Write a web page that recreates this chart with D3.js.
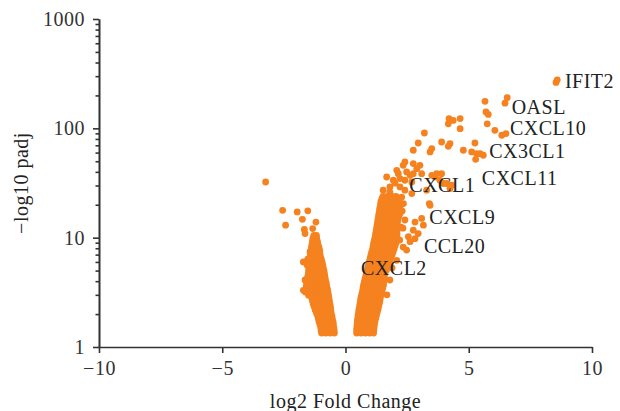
<!DOCTYPE html>
<html lang="en">
<head>
    <meta charset="UTF-8">
    <title>Volcano plot</title>
    <script src="https://d3js.org/d3.v7.min.js"></script>
    <style>
        body { margin: 0; background: #fff; }
        svg { display: block; }
        text { font-family: "Liberation Serif", "Times New Roman", serif; fill: #222; letter-spacing: 0.5px; }
        .axis path, .axis line { stroke: #333; stroke-width: 1.6; }
        .axis text { font-family: "Liberation Serif", "Times New Roman", serif; font-size: 20px; fill: #333; }
    </style>
</head>
<body>
    <svg width="620" height="411"></svg>
    <script>
        // [log2 fold change, -log10 padj]
        const downGenes = [
            [-0.97,1.34],[-0.80,1.34],[-0.62,1.34],[-0.45,1.34],
            [-0.99,1.41],[-0.89,1.41],[-0.72,1.41],[-0.55,1.41],[-0.46,1.41],
            [-1.00,1.49],[-0.83,1.49],[-0.65,1.49],[-0.47,1.49],
            [-1.03,1.59],[-0.86,1.59],[-0.68,1.59],[-0.49,1.59],
            [-1.07,1.69],[-0.89,1.69],[-0.70,1.69],[-0.50,1.69],
            [-1.10,1.80],[-0.92,1.80],[-0.73,1.80],[-0.53,1.80],
            [-1.13,1.92],[-0.95,1.92],[-0.76,1.92],[-0.55,1.92],
            [-1.18,2.05],[-1.00,2.05],[-0.80,2.05],[-0.58,2.05],
            [-1.23,2.18],[-1.04,2.18],[-0.85,2.18],[-0.60,2.18],
            [-1.27,2.33],[-1.08,2.33],[-0.88,2.33],[-0.68,2.33],[-0.61,2.33],
            [-1.31,2.47],[-1.12,2.47],[-0.92,2.47],[-0.72,2.47],[-0.63,2.47],
            [-1.34,2.63],[-1.15,2.63],[-0.95,2.63],[-0.75,2.63],[-0.65,2.63],
            [-1.37,2.80],[-1.18,2.80],[-0.98,2.80],[-0.78,2.80],[-0.67,2.80],
            [-1.50,2.98],[-1.30,2.98],[-1.10,2.98],[-0.90,2.98],[-0.69,2.98],
            [-1.63,3.18],[-1.42,3.18],[-1.22,3.18],[-1.01,3.18],[-0.82,3.18],[-0.71,3.18],
            [-1.71,3.30],[-1.61,3.39],[-1.40,3.39],[-1.19,3.39],[-0.99,3.39],[-0.79,3.39],[-0.73,3.39],
            [-1.59,3.61],[-1.38,3.61],[-1.17,3.61],[-0.96,3.61],[-0.76,3.61],
            [-1.58,3.85],[-1.37,3.85],[-1.17,3.85],[-0.97,3.85],[-0.78,3.85],
            [-1.64,4.10],[-1.57,4.09],[-1.37,4.09],[-1.18,4.09],[-0.99,4.09],[-0.81,4.09],
            [-1.54,4.36],[-1.35,4.36],[-1.16,4.36],[-0.99,4.36],[-0.83,4.36],
            [-1.51,4.64],[-1.33,4.64],[-1.15,4.64],[-0.98,4.64],[-0.85,4.64],
            [-1.50,4.95],[-1.31,4.95],[-1.12,4.95],[-0.94,4.95],[-0.87,4.95],
            [-1.49,5.27],[-1.30,5.27],[-1.10,5.27],[-0.90,5.27],
            [-1.56,5.62],[-1.37,5.62],[-1.18,5.62],[-0.99,5.62],[-0.92,5.62],
            [-1.71,6.00],[-1.64,5.98],[-1.45,5.98],[-1.25,5.98],[-1.08,5.98],[-0.95,5.98],
            [-1.53,6.37],[-1.33,6.37],[-1.14,6.37],[-0.98,6.37],
            [-1.43,6.78],[-1.22,6.78],[-1.02,6.78],
            [-1.41,7.22],[-1.22,7.22],[-1.04,7.22],
            [-1.44,7.40],[-1.40,7.69],[-1.22,7.69],[-1.05,7.69],
            [-1.38,8.19],[-1.22,8.19],[-1.08,8.19],
            [-1.36,8.72],[-1.12,8.72],
            [-1.34,9.29],[-1.14,9.29],
            [-1.32,9.90],[-1.17,9.90],
            [-1.28,10.5],[-1.18,10.5],
            [-1.64,10.9],[-1.67,11.9],[-1.33,12.1],[-1.20,13.9],[-1.75,14.7],
            [-1.96,17.2],[-1.53,17.6],[-2.43,13.0],[-2.55,17.8],[-3.24,32.3]
        ];

        const upGenes = [
            [0.45,1.34],[0.63,1.34],[0.81,1.34],[0.98,1.34],[1.14,1.34],
            [0.45,1.43],[0.54,1.43],[0.72,1.43],[0.90,1.43],[1.07,1.43],[1.15,1.43],
            [0.46,1.52],[0.64,1.52],[0.82,1.52],[1.00,1.52],[1.16,1.52],
            [0.47,1.62],[0.65,1.62],[0.83,1.62],[1.01,1.62],[1.18,1.62],
            [0.48,1.73],[0.66,1.73],[0.85,1.73],[1.03,1.73],[1.20,1.73],
            [0.50,1.84],[0.68,1.84],[0.87,1.84],[1.05,1.84],[1.23,1.84],
            [0.51,1.96],[0.70,1.96],[0.89,1.96],[1.08,1.96],[1.26,1.96],
            [0.53,2.09],[0.72,2.09],[0.91,2.09],[1.10,2.09],[1.29,2.09],
            [0.55,2.22],[0.74,2.22],[0.93,2.22],[1.12,2.22],[1.32,2.22],
            [0.57,2.37],[0.76,2.37],[0.95,2.37],[1.15,2.37],[1.35,2.37],
            [0.59,2.52],[0.78,2.52],[0.98,2.52],[1.18,2.52],[1.38,2.52],
            [0.61,2.69],[0.80,2.69],[1.00,2.69],[1.20,2.69],[1.40,2.69],
            [0.63,2.86],[0.83,2.86],[1.02,2.86],[1.22,2.86],[1.42,2.86],
            [0.66,3.05],[0.85,3.05],[1.05,3.05],[1.25,3.05],[1.45,3.05],
            [0.69,3.25],[0.88,3.25],[1.08,3.25],[1.28,3.25],[1.48,3.25],
            [0.71,3.46],[0.90,3.46],[1.10,3.46],[1.31,3.46],[1.51,3.46],
            [0.73,3.68],[0.93,3.68],[1.13,3.68],[1.34,3.68],[1.54,3.68],
            [0.76,3.92],[0.95,3.92],[1.15,3.92],[1.36,3.92],[1.55,3.92],
            [0.79,4.18],[0.98,4.18],[1.18,4.18],[1.38,4.18],[1.56,4.18],
            [0.82,4.45],[1.01,4.45],[1.20,4.45],[1.40,4.45],[1.58,4.45],
            [0.85,4.74],[1.04,4.74],[1.23,4.74],[1.42,4.74],[1.60,4.74],
            [0.88,5.05],[1.07,5.05],[1.27,5.05],[1.47,5.05],[1.66,5.05],
            [0.91,5.38],[1.11,5.38],[1.31,5.38],[1.52,5.38],[1.72,5.38],
            [0.94,5.73],[1.14,5.73],[1.34,5.73],[1.55,5.73],[1.76,5.73],
            [0.97,6.10],[1.17,6.10],[1.38,6.10],[1.59,6.10],[1.80,6.10],
            [1.00,6.50],[1.20,6.50],[1.41,6.50],[1.63,6.50],[1.84,6.50],
            [1.03,6.93],[1.24,6.93],[1.45,6.93],[1.67,6.93],[1.89,6.93],
            [1.06,7.38],[1.27,7.38],[1.49,7.38],[1.71,7.38],[1.93,7.38],
            [1.10,7.86],[1.31,7.86],[1.53,7.86],[1.75,7.86],[1.97,7.86],
            [1.12,8.37],[1.33,8.37],[1.56,8.37],[1.78,8.37],[2.01,8.37],
            [1.14,8.92],[1.36,8.92],[1.59,8.92],[1.82,8.92],[2.05,8.92],
            [1.17,9.49],[1.39,9.49],[1.61,9.49],[1.84,9.49],[2.07,9.49],
            [1.20,10.1],[1.42,10.1],[1.64,10.1],[1.86,10.1],[2.09,10.1],
            [1.22,10.8],[1.43,10.8],[1.65,10.8],[1.87,10.8],[2.09,10.8],
            [1.24,11.5],[1.45,11.5],[1.66,11.5],[1.88,11.5],[2.09,11.5],
            [1.26,12.2],[1.46,12.2],[1.67,12.2],[1.88,12.2],[2.09,12.2],
            [1.28,13.0],[1.48,13.0],[1.68,13.0],[1.89,13.0],[2.09,13.0],
            [1.30,13.9],[1.50,13.9],[1.70,13.9],[1.91,13.9],[2.11,13.9],
            [1.32,14.8],[1.52,14.8],[1.72,14.8],[1.93,14.8],[2.13,14.8],
            [1.34,15.8],[1.55,15.8],[1.75,15.8],[1.96,15.8],[2.17,15.8],
            [1.36,16.8],[1.57,16.8],[1.78,16.8],[2.00,16.8],[2.21,16.8],
            [1.38,17.9],[1.59,17.9],[1.80,17.9],[2.00,17.9],[2.21,17.9],
            [1.40,19.0],[1.61,19.0],[1.81,19.0],[2.01,19.0],[2.21,19.0],
            [1.42,20.3],[1.61,20.3],[1.80,20.3],[2.00,20.3],[2.19,20.3],
            [1.44,21.6],[1.62,21.6],[1.80,21.6],[1.98,21.6],[2.17,21.6],
            [1.48,22.7],[1.66,22.7],[1.84,22.7],[2.02,22.7],[2.11,22.7],
            [1.52,23.9],[1.70,23.9],[1.88,23.9],[2.05,23.9],
            [1.60,22.0],[1.80,26.1],[2.01,23.0],[1.53,27.2],[1.80,29.1],[1.67,35.9],[2.01,31.5],
            [2.30,17.5],[2.35,20.5],[2.28,23.5],[2.25,12.5],[2.20,9.5],
            [1.89,5.3],[1.80,4.1],[1.68,3.0],[2.08,6.2],[2.34,8.2],[2.48,7.7],[2.62,9.2],
            [2.82,9.8],[2.55,10.2],[2.95,10.9],[2.75,11.7],[2.33,12.2],[3.16,13.0],[2.82,13.9],
            [2.41,14.5],[3.09,15.0],[2.21,16.7],[3.40,20.5],[3.43,19.8],
            [2.69,25.3],[2.41,27.2],[3.29,27.2],[2.21,29.1],[4.24,28.1],[4.31,30.2],[3.97,31.3],
            [4.11,31.3],[2.69,32.3],[1.94,33.5],[2.41,33.5],[3.83,33.5],[2.21,34.7],[3.63,35.9],
            [2.62,37.2],[3.50,37.2],[2.14,38.5],[2.75,38.5],[3.09,38.5],[3.70,38.5],[3.90,38.5],
            [2.48,39.9],[2.08,41.3],[2.89,42.8],[2.34,45.9],[3.02,45.9],[2.75,47.6],[2.41,49.2],
            [5.28,52.1],[5.59,56.7],[5.32,58.7],[5.46,58.7],[3.43,60.8],[5.12,60.8],[2.75,63.0],
            [4.78,63.0],[3.50,65.3],[4.17,68.5],[4.24,72.5],[2.95,73.4],[5.25,73.4],[3.90,75.0],
            [6.34,86.4],[6.51,89.5],[3.20,90.6],[6.06,95.9],[4.65,99.3],[4.17,110],[5.75,110],
            [4.37,118],[4.20,122.7],[4.65,122.7],[5.79,134],[5.70,141],[6.47,170],[5.66,176.5],
            [6.56,190.7],[8.54,263],[8.59,278]
        ];

        const geneLabels = ["IFIT2", "OASL", "CXCL10", "CX3CL1", "CXCL11", "CXCL1", "CXCL9", "CCL20", "CXCL2"];
        const labelX = [8.90, 6.74, 6.67, 5.83, 5.53, 2.59, 3.40, 3.18, 0.63];
        const labelY = [231.8, 136, 86.3, 54, 30.2, 26.2, 13.3, 7.26, 4.54];

        const xTicks = [-10, -5, 0, 5, 10];
        const yTicks = [1, 10, 100, 1000];

        const margin = { top: 19, right: 28, bottom: 64, left: 99 };
        const width = 620 - margin.left - margin.right;
        const height = 411 - margin.top - margin.bottom;

        const svg = d3.select("svg");
        const g = svg.append("g").attr("transform", `translate(${margin.left},${margin.top})`);

        const x = d3.scaleLinear().domain([-10, 10]).range([0, width]);
        const y = d3.scaleLog().domain([1, 1000]).range([height, 0]);

        const minorTicks = [];
        for (let d = 1; d < 1000; d *= 10) {
            for (let k = 2; k <= 9; k++) minorTicks.push(d * k);
        }

        g.append("g").attr("class", "axis")
            .call(d3.axisLeft(y).tickValues(minorTicks).tickSize(3.5).tickSizeOuter(0).tickFormat(""));
        g.append("g").attr("class", "axis")
            .call(d3.axisLeft(y).tickValues(yTicks).tickSize(6).tickSizeOuter(0).tickPadding(8).tickFormat(d3.format("d")));
        g.append("g").attr("class", "axis")
            .attr("transform", `translate(0,${height})`)
            .call(d3.axisBottom(x).tickValues(xTicks).tickSize(6).tickSizeOuter(0).tickPadding(8));

        const pts = downGenes.concat(upGenes);
        g.append("g").selectAll("circle")
            .data(pts)
            .join("circle")
            .attr("cx", d => x(d[0]))
            .attr("cy", d => y(d[1]))
            .attr("r", 3.4)
            .attr("fill", "#f5821f");

        g.append("g").selectAll("text")
            .data(geneLabels)
            .join("text")
            .attr("x", (d, i) => x(labelX[i]))
            .attr("y", (d, i) => y(labelY[i]))
            .attr("font-size", "20px")
            .attr("fill", "#1a1a1a")
            .text(d => d);

        svg.append("text")
            .attr("x", margin.left + x(0))
            .attr("y", 408)
            .attr("text-anchor", "middle")
            .attr("font-size", "20px")
            .attr("fill", "#333")
            .text("log2 Fold Change");

        svg.append("text")
            .attr("transform", `translate(28,${margin.top + y(Math.sqrt(1000))}) rotate(-90)`)
            .attr("text-anchor", "middle")
            .attr("font-size", "20px")
            .attr("fill", "#333")
            .text("−log10 padj");
    </script>
</body>
</html>
